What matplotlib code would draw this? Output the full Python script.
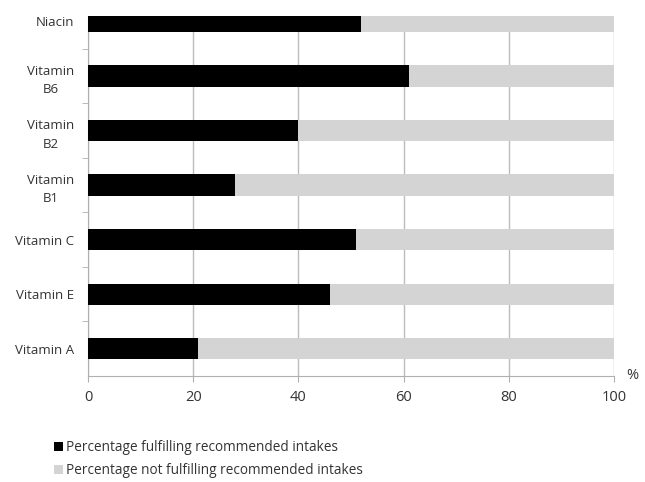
import matplotlib.pyplot as plt
from matplotlib.patches import Patch

# values (bottom to top)
nutrients = ['Vitamin A', 'Vitamin E', 'Vitamin C', 'Vitamin\nB1', 'Vitamin\nB2', 'Vitamin\nB6', 'Niacin']
fulfilling = [21, 46, 51, 28, 40, 61, 52]
not_fulfilling = [100 - v for v in fulfilling]
xticks = [0, 20, 40, 60, 80, 100]

plt.rcParams['font.family'] = ['Open Sans', 'DejaVu Sans']

fig = plt.figure(figsize=(6.45, 4.82), dpi=100)
ax = fig.add_axes([0.1364, 0.2199, 0.9519 - 0.1364, 0.9668 - 0.2199])

pos = list(range(len(nutrients)))
ax.barh(pos, fulfilling, height=0.39, color='black', zorder=3)
ax.barh(pos, not_fulfilling, left=fulfilling, height=0.39, color='#d4d4d4', zorder=3)

ax.set_xlim(0, 100)
ax.set_ylim(-0.5, 6.1)
ax.set_xticks(xticks)
ax.set_xticklabels([str(t) for t in xticks], fontsize=10.5, color='#333333')
ax.set_yticks(pos)
ax.set_yticklabels(nutrients, fontsize=9.5, color='#333333', ha='right',
                   multialignment='center', linespacing=1.55)
ax.tick_params(axis='y', length=0, pad=10)
ax.set_yticks([p + 0.5 for p in pos[:-1]], minor=True)
ax.tick_params(axis='y', which='minor', length=4, color='#b0b0b0')
ax.tick_params(axis='x', length=4, color='#b0b0b0', pad=6)

ax.grid(axis='x', color='#bcbcbc', linewidth=1, zorder=0)
for side in ['top', 'right']:
    ax.spines[side].set_visible(False)
ax.spines['left'].set_color('#b0b0b0')
ax.spines['bottom'].set_color('#b0b0b0')

fig.text(0.981, 0.220, '%', fontsize=10.5, color='#333333', ha='center', va='center')

handles = [Patch(facecolor='black'), Patch(facecolor='#d4d4d4')]
labels = ['Percentage fulfilling recommended intakes',
          'Percentage not fulfilling recommended intakes']
fig.legend(handles, labels, loc='lower left', bbox_to_anchor=(0.064, -0.018), frameon=False,
           fontsize=9.8, handlelength=0.7, handleheight=0.7, handletextpad=0.25,
           labelspacing=0.6, labelcolor='#333333')

fig.savefig('out.png', dpi=100)
